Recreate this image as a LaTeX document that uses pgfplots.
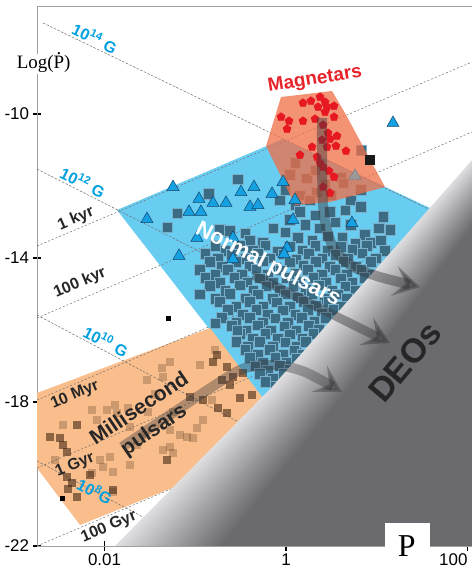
\documentclass[border=0pt]{standalone}
\usepackage{fontspec}
\setmainfont{Liberation Sans}
\newfontfamily\seriffont{Liberation Serif}
\usepackage{pgfplots}
\pgfplotsset{compat=1.18}
\usepackage{pgfplotstable}
\usetikzlibrary{arrows.meta}

\definecolor{npblue}{RGB}{105,205,242}
\definecolor{msporange}{RGB}{249,190,140}
\definecolor{magred}{RGB}{240,110,70}
\definecolor{sqblue}{RGB}{60,108,132}
\definecolor{sqedge}{RGB}{120,176,204}
\definecolor{tri}{RGB}{20,160,225}
\definecolor{triedge}{RGB}{20,70,110}
\definecolor{pent}{RGB}{230,25,35}
\definecolor{labblue}{RGB}{0,160,224}
\definecolor{magtext}{RGB}{232,35,42}
\definecolor{deol}{RGB}{222,222,224}
\definecolor{deod}{RGB}{106,106,111}
\definecolor{arrowgray}{RGB}{55,55,60}
\definecolor{mspsq}{RGB}{70,40,20}
\definecolor{guide}{RGB}{110,110,110}
\definecolor{frame}{RGB}{160,160,160}

% x = log10 P, y = log10 Pdot
\pgfplotstableread{
x y
-0.53 -11.81
-1.20 -12.75
-1.31 -13.14
-0.14 -13.17
-0.73 -13.22
-0.62 -13.24
-0.45 -13.31
-0.26 -13.58
-0.40 -13.50
-0.85 -12.22
0.10 -11.36
0.04 -11.69
0.23 -11.78
0.32 -11.56
0.60 -11.75
0.63 -11.92
0.34 -12.17
0.15 -12.25
-0.01 -12.11
0.49 -12.25
0.82 -12.11
0.83 -11.00
0.43 -11.97
0.71 -12.39
0.26 -12.39
-0.07 -12.39
0.10 -12.53
1.07 -12.86
1.02 -13.17
0.82 -12.58
0.65 -12.67
0.48 -12.72
0.32 -12.81
0.15 -12.72
0.04 -12.94
0.21 -13.08
0.37 -13.17
0.54 -13.00
0.71 -13.08
0.87 -13.36
1.15 -13.22
-0.01 -13.28
0.13 -13.44
0.29 -13.50
0.46 -13.39
0.62 -13.44
0.76 -13.61
0.93 -13.58
1.04 -13.50
-0.78 -13.65
-0.67 -13.80
-0.51 -13.66
-0.37 -13.79
-0.23 -13.64
-0.09 -13.81
0.04 -13.67
0.18 -13.78
0.32 -13.65
0.46 -13.80
0.60 -13.68
0.73 -13.77
0.89 -13.66
1.09 -13.79
-0.89 -13.88
-0.75 -14.01
-0.60 -13.90
-0.45 -14.02
-0.31 -13.87
-0.18 -14.00
-0.03 -13.89
0.11 -14.03
0.25 -13.88
0.40 -14.00
0.54 -13.90
0.68 -14.02
0.84 -13.87
0.99 -14.01
-0.84 -14.10
-0.71 -14.24
-0.55 -14.11
-0.40 -14.23
-0.26 -14.09
-0.11 -14.25
0.04 -14.12
0.19 -14.22
0.33 -14.10
0.48 -14.24
0.63 -14.11
0.77 -14.23
0.93 -14.10
-0.95 -14.32
-0.78 -14.46
-0.64 -14.33
-0.49 -14.45
-0.33 -14.31
-0.20 -14.47
-0.06 -14.34
0.10 -14.44
0.24 -14.32
0.39 -14.46
0.54 -14.33
0.67 -14.45
0.83 -14.31
0.95 -14.47
-0.89 -14.55
-0.73 -14.68
-0.57 -14.54
-0.43 -14.67
-0.29 -14.56
-0.14 -14.69
0.00 -14.55
0.15 -14.66
0.30 -14.54
0.44 -14.68
0.60 -14.56
0.73 -14.67
0.86 -14.55
-0.84 -14.77
-0.67 -14.90
-0.51 -14.76
-0.36 -14.89
-0.22 -14.78
-0.07 -14.91
0.08 -14.77
0.22 -14.88
0.36 -14.76
0.51 -14.90
0.65 -14.78
0.76 -14.89
-0.95 -15.00
-0.78 -15.13
-0.62 -14.99
-0.45 -15.12
-0.31 -15.01
-0.15 -15.13
-0.01 -15.00
0.13 -15.11
0.28 -14.99
0.42 -15.13
0.57 -15.01
0.67 -15.12
-0.73 -15.22
-0.55 -15.35
-0.40 -15.21
-0.25 -15.34
-0.10 -15.23
0.04 -15.35
0.19 -15.22
0.33 -15.33
0.47 -15.21
0.60 -15.34
-0.64 -15.44
-0.48 -15.57
-0.33 -15.43
-0.20 -15.56
-0.04 -15.45
0.10 -15.57
0.24 -15.44
0.39 -15.55
0.52 -15.43
-0.71 -15.66
-0.55 -15.79
-0.40 -15.65
-0.26 -15.78
-0.12 -15.67
0.02 -15.79
0.17 -15.66
0.31 -15.77
0.44 -15.65
-0.60 -15.88
-0.44 -16.01
-0.31 -15.87
-0.17 -16.00
-0.02 -15.89
0.11 -16.01
0.25 -15.88
0.36 -15.99
-0.51 -16.11
-0.37 -16.24
-0.23 -16.10
-0.09 -16.23
0.04 -16.12
0.18 -16.24
0.30 -16.11
-0.55 -16.33
-0.42 -16.46
-0.29 -16.32
-0.15 -16.45
-0.01 -16.34
0.11 -16.46
0.22 -16.33
-0.45 -16.55
-0.31 -16.68
-0.18 -16.54
-0.03 -16.67
0.09 -16.56
0.18 -16.68
-0.40 -16.77
-0.26 -16.90
-0.12 -16.76
0.01 -16.89
0.12 -16.78
-0.34 -17.00
-0.20 -17.12
-0.07 -16.99
0.04 -17.11
-0.29 -17.22
-0.15 -17.34
-0.03 -17.21
-0.23 -17.44
-0.12 -17.56
-0.78 -15.81
-0.54 -16.00
}\normaltab

\pgfplotstableread{
x y
-0.760 -16.694
-0.650 -17.028
-0.804 -16.889
-0.705 -17.389
-0.584 -17.306
-0.617 -17.528
-0.507 -17.889
-0.375 -17.806
-0.749 -18.167
-0.650 -18.306
-2.601 -18.972
-2.490 -19.000
-2.457 -19.194
-2.413 -19.389
-2.303 -18.639
-2.413 -20.083
-2.358 -20.250
-2.402 -20.417
-2.303 -20.639
-2.160 -20.028
-1.311 -19.611
-1.058 -17.861
-0.915 -17.944
-1.906 -20.444
-0.474 -17.194
}\mspdark

\pgfplotstableread{
x y
-1.278 -16.889
-1.366 -17.056
-1.355 -17.306
-1.532 -17.389
-1.884 -18.083
-1.741 -18.167
-2.138 -18.222
-1.972 -18.222
-1.862 -18.306
-2.083 -18.500
-1.719 -18.694
-1.278 -18.778
-1.168 -18.917
-1.091 -18.972
-1.025 -19.000
-0.981 -18.722
-0.915 -18.500
-0.815 -17.944
-0.948 -16.972
-0.782 -16.556
-1.554 -18.917
-1.642 -19.194
-1.939 -19.528
-2.017 -19.806
-1.906 -19.944
-2.050 -19.611
-2.138 -19.972
-1.906 -20.500
-1.278 -19.250
-1.245 -19.417
-1.355 -19.333
-1.521 -18.278
-1.245 -18.278
-1.719 -19.750
-2.545 -19.611
-2.457 -18.639
-1.440 -17.800
}\msplight

\pgfplotstableread{
x y
-1.245 -12.03
-1.532 -12.92
-0.959 -12.36
-0.804 -12.47
-0.661 -12.47
-1.069 -12.72
-0.937 -12.72
-0.496 -12.17
-0.353 -12.03
-0.397 -12.58
-0.309 -12.53
-0.154 -12.22
-0.981 -13.44
-0.584 -13.44
-0.584 -14.03
-1.179 -13.94
-0.033 -11.89
0.099 -12.39
0.077 -12.94
0.727 -13.03
1.179 -10.25
0.011 -13.72
-0.022 -13.89
}\tritab

\pgfplotstableread{
x y
0.187 -9.694
0.275 -9.639
0.375 -9.528
0.430 -9.667
0.353 -9.806
0.452 -9.806
0.529 -9.778
-0.055 -10.083
0.033 -10.194
0.187 -10.194
0.320 -10.139
0.011 -10.417
0.463 -10.528
0.562 -10.611
0.485 -10.694
0.287 -10.917
0.452 -10.917
0.551 -10.889
0.661 -11.028
0.154 -11.139
0.342 -11.194
0.474 -11.583
0.529 -11.750
0.485 -12.194
0.408 -11.472
0.375 -11.361
0.529 -10.083
0.430 -9.944
0.397 -10.722
0.408 -10.306
0.408 -12.028
}\penttab

% edge of the DEO region; w = width of the light band at each vertex
\pgfplotstableread{
x y w
-2.00 -22.30 0.0115
-1.884 -22.00 0.0115
-0.154 -17.583 0.0085
2.05 -11.278 0.0055
2.30 -10.56 0.0055
3.50 -10.56 0.0055
3.50 -22.30 0.0115
}\deotab

\begin{document}
\begin{tikzpicture}
\begin{axis}[
  scale only axis, width=435bp, height=540bp,
  xmin=-2.744, xmax=2.0496, ymin=-22, ymax=-7,
  xtick={-2,0,2}, xticklabels={0.01,1,\makebox[0pt][r]{100}},
  ytick={-22,-18,-14,-10}, yticklabels={-22,-18,-14,-10},
  xtick pos=bottom, ytick pos=left,
  tick label style={font=\fontsize{17}{17}\selectfont},
  axis line style={frame, line width=0.8bp},
  tick align=center, major tick length=9bp,
  tick style={black, line width=1.3bp},
  clip mode=individual,
]
% regions
\addplot[fill=npblue, draw=none] coordinates {(-1.862,-12.667) (-0.033,-10.694) (1.587,-12.611) (2.138,-13.278) (2.138,-18.778) (-0.264,-17.861)} -- cycle;
\addplot[fill=msporange, draw=none] coordinates {(-2.744,-17.75) (-0.837,-15.944) (-0.264,-17.861) (-1.113,-20.222) (-1.256,-20.389) (-2.270,-21.417) (-2.744,-19.833)} -- cycle;

% constant field lines
\addplot[guide, line width=0.5bp, dash pattern=on 2.5bp off 1.5bp] coordinates {(-2.678,-7.472) (2.05,-13.222)};
\addplot[guide, line width=0.5bp, dash pattern=on 2.5bp off 1.5bp] coordinates {(-2.744,-11.528) (2.05,-17.667)};
\addplot[guide, line width=0.5bp, dash pattern=on 2.5bp off 1.5bp] coordinates {(-2.744,-15.583) (2.05,-22.0)};
\addplot[guide, line width=0.5bp, dash pattern=on 2.5bp off 1.5bp] coordinates {(-2.744,-19.639) (-0.948,-22.03)};
% constant age lines
\addplot[guide, line width=0.5bp, dash pattern=on 2bp off 2bp] coordinates {(-2.744,-13.667) (2.05,-8.556)};
\addplot[guide, line width=0.5bp, dash pattern=on 2bp off 2bp] coordinates {(-2.744,-15.667) (2.05,-10.5)};
\addplot[guide, line width=0.5bp, dash pattern=on 2bp off 2bp] coordinates {(-2.744,-17.944) (2.05,-12.806)};
\addplot[guide, line width=0.5bp, dash pattern=on 2bp off 2bp] coordinates {(-2.744,-19.833) (2.05,-14.694)};
\addplot[guide, line width=0.5bp, dash pattern=on 2bp off 2bp] coordinates {(-2.744,-22.0) (2.05,-16.861)};

% normal pulsars
\addplot[only marks, mark=square*, mark size=5.3bp, mark options={fill=sqblue, draw=sqedge, line width=0.35bp}] table {\normaltab};

% magnetar region
\addplot[fill=magred, fill opacity=0.75, draw=none] coordinates {(-0.055,-9.528) (0.507,-9.361) (0.650,-9.972) (1.091,-12.028) (0.485,-12.444) (0.099,-12.528) (-0.220,-10.889)} -- cycle;

\addplot[only marks, mark=triangle*, mark size=7bp, mark options={fill=tri, draw=triedge, line width=0.5bp}] table {\tritab};
\addplot[only marks, mark=triangle*, mark size=7bp, mark options={fill=gray!80, draw=gray, line width=0.5bp}] coordinates {(0.760,-11.72)};
\addplot[only marks, mark=pentagon*, mark size=4.4bp, mark options={fill=pent, draw=pent, line width=0.2bp}] table {\penttab};
\addplot[only marks, mark=square*, mark size=4.5bp, mark options={fill=black!90, draw=black!90}] coordinates {(0.92,-11.28)};
\addplot[only marks, mark=square*, mark size=2bp, mark options={fill=black, draw=black}] coordinates {(-1.30,-15.67) (-2.47,-20.67)};

% millisecond pulsars
\addplot[only marks, mark=square*, mark size=4.4bp, mark options={fill=mspsq, fill opacity=0.6, draw opacity=0}] table {\mspdark};
\addplot[only marks, mark=square*, mark size=4.4bp, mark options={fill=mspsq, fill opacity=0.25, draw opacity=0}] table {\msplight};

% DEO region
\pgfplotsinvokeforeach{0,4,8,12,16,20,24,28,32,36,40,44,48,52,56,60,64,68,72,76,80,84,88,92,96,100}{
  \addplot[fill=deod!#1!deol, draw=none] table[x expr=\thisrow{x}+#1*\thisrow{w}, y=y] {\deotab} -- cycle;
}

% evolution arrows
\addplot[arrowgray, opacity=0.45, line width=10bp, smooth, tension=0.5, -{Stealth[length=26bp,width=30bp,inset=11bp]}] coordinates {(0.397,-10.111) (0.408,-12.528) (0.507,-13.639) (0.727,-14.222) (1.036,-14.528) (1.477,-14.806)};
\addplot[arrowgray, opacity=0.45, line width=9bp, -{Stealth[length=26bp,width=30bp,inset=11bp]}] coordinates {(-0.364,-14.472) (1.146,-16.361)};
\addplot[arrowgray, opacity=0.38, line width=10bp, smooth, tension=0.5, -{Stealth[length=26bp,width=30bp,inset=11bp]}] coordinates {(-1.807,-19.25) (-0.782,-17.528) (-0.452,-17.056) (-0.121,-16.972) (0.209,-17.167) (0.617,-17.722)};

% labels
\node[rotate=-26, text=labblue, font=\bfseries\fontsize{16}{16}\selectfont] at (-2.105,-7.889) {10\textsuperscript{14} G};
\node[rotate=-26, text=labblue, font=\bfseries\fontsize{16}{16}\selectfont] at (-2.237,-11.889) {10\textsuperscript{12} G};
\node[rotate=-27, text=labblue, font=\bfseries\fontsize{16}{16}\selectfont] at (-1.983,-16.306) {10\textsuperscript{10} G};
\node[rotate=-28, text=labblue, font=\bfseries\fontsize{16}{16}\selectfont] at (-2.105,-20.472) {10\textsuperscript{8}G};
\node[rotate=23, text=black!85, font=\bfseries\fontsize{16}{16}\selectfont] at (-2.314,-12.917) {1 kyr};
\node[rotate=23, text=black!85, font=\bfseries\fontsize{16}{16}\selectfont] at (-2.270,-14.694) {100 kyr};
\node[rotate=23, text=black!85, font=\bfseries\fontsize{16}{16}\selectfont] at (-2.325,-17.806) {10 Myr};
\node[rotate=23, text=black!85, font=\bfseries\fontsize{16}{16}\selectfont] at (-2.325,-19.750) {1 Gyr};
\node[rotate=23, text=black!85, font=\bfseries\fontsize{16}{16}\selectfont] at (-1.950,-21.472) {100 Gyr};
\node[rotate=9, text=magtext, font=\bfseries\fontsize{19}{19}\selectfont] at (0.320,-9.056) {Magnetars};
\node[rotate=-27, text=white, font=\bfseries\fontsize{22}{22}\selectfont] at (-0.198,-14.194) {Normal pulsars};
\node[rotate=34, align=center, text=black!85, font=\bfseries\fontsize{21}{26}\selectfont] at (-1.532,-18.5) {Millisecond\\pulsars};
\node[rotate=50, text=black!85, font=\bfseries\fontsize{34}{34}\selectfont] at (1.311,-16.889) {DEOs};
\node[fill=white, inner sep=1bp, font=\seriffont\fontsize{19}{19}\selectfont] at (-2.67,-8.611) {Log(\ooalign{P\cr\hfil\raisebox{0.72em}{.}\hfil\cr})};
\node[fill=white, inner sep=0pt, minimum width=45bp, minimum height=24bp] at (1.339,-21.694) {};
\node[font=\seriffont\fontsize{32}{32}\selectfont] at (1.33,-22.0) {P};
\end{axis}
\pgfresetboundingbox
\path[use as bounding box] ([xshift=-37bp,yshift=-33bp]current axis.south west) rectangle ([yshift=6bp]current axis.north east);
\end{tikzpicture}
\end{document}
